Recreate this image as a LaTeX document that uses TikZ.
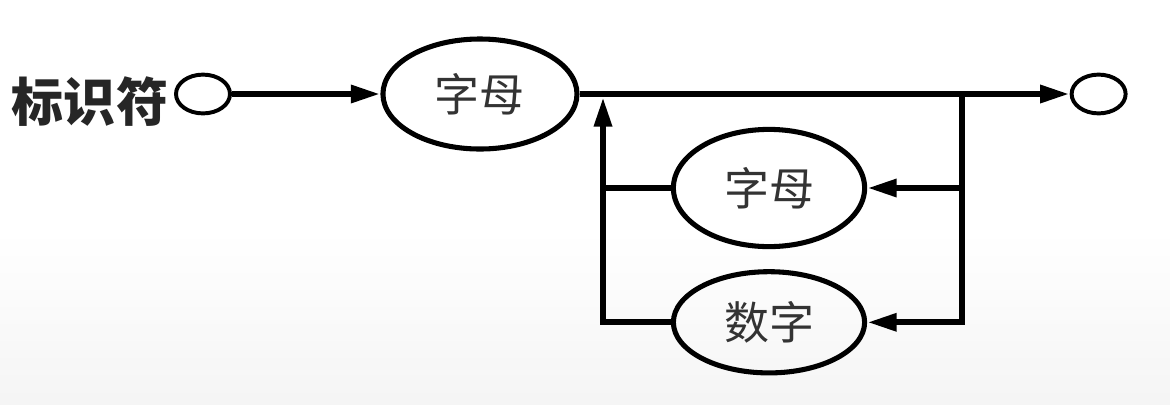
\documentclass[tikz,border=0pt]{standalone}
\usepackage{fontspec}
\newfontfamily\cjk{Noto Sans CJK SC}
\usepackage{tikz}
\usetikzlibrary{arrows.meta,positioning,shapes.geometric}

\begin{document}
\begin{tikzpicture}[x=0.025cm,y=-0.025cm,node distance=0.6cm and 3.8cm,
  oval/.style={draw,ellipse,line width=3.6pt,minimum width=4.85cm,minimum height=2.75cm,
               text=black!80,font=\cjk\fontsize{32}{34}\selectfont},
  port/.style={draw,ellipse,line width=2.8pt,minimum width=1.35cm,minimum height=0.97cm},
  flow/.style={line width=4.5pt},
  >={Triangle[length=21pt,width=12pt]}]
  \useasboundingbox (0,0) rectangle (1170,404);
  \fill[white] (0,0) rectangle (1170,404);
  \shade[top color=white,bottom color=black!4] (0,230) rectangle (1170,404);
  % main line
  \node[text=black!85,font=\cjk\bfseries\fontsize{37}{40}\selectfont]
       (lbl) at (90,102) {标识符};
  \node[port] (st) at (203,94) {};
  \node[oval,right=3.71cm of st] (zm) {字母};
  \node[port,right=12.25cm of zm] (ed) {};
  % loop back
  \node[oval,minimum width=4.78cm,minimum height=2.93cm] (zm2) at (769,188) {字母};
  \node[oval,minimum width=4.78cm,minimum height=2.53cm,below=0.5cm of zm2] (sz) {数字};
  \coordinate (rj) at (962,94);
  \coordinate (lj) at (603,97);
  \draw[flow,->] (st) -- (zm);
  \draw[flow,->] (zm) -- (ed);
  \draw[flow,->] (rj) -- (rj |- sz) -- (sz);
  \draw[flow,->] (rj |- zm2) -- (zm2);
  \draw[flow,->] (sz) -- (lj |- sz) -- (lj);
  \draw[flow] (zm2) -- (zm2 -| lj);
\end{tikzpicture}
\end{document}
